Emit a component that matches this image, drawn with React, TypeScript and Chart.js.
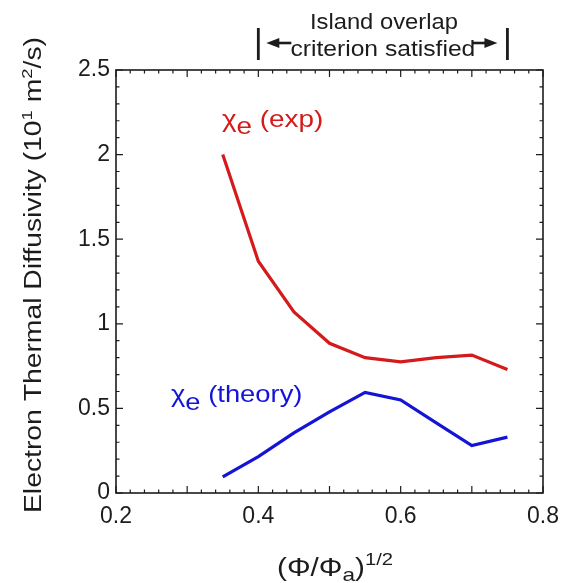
import React, { useEffect, useRef } from "react";
import { Chart, registerables } from "chart.js";

Chart.register(...registerables);

// ---- data ----
const xValues = [0.35, 0.4, 0.45, 0.5, 0.55, 0.6, 0.65, 0.7, 0.75];
const chiExp = [2.0, 1.37, 1.07, 0.885, 0.8, 0.775, 0.8, 0.815, 0.73];
const chiTheory = [0.095, 0.215, 0.355, 0.48, 0.595, 0.55, 0.415, 0.28, 0.33];
const xRange = [0.2, 0.8];
const yRange = [0, 2.5];
const xTickStep = 0.2;
const yTickStep = 0.5;
const overlapRange = [0.4, 0.75];
const overlapLabel = ["Island overlap", "criterion satisfied"];
const expLabel = ["χ", "e", " (exp)"];
const theoryLabel = ["χ", "e", " (theory)"];

const FONT = "'Liberation Sans', Arial, sans-serif";
const RED = "rgb(212,26,26)";
const BLUE = "rgb(20,20,215)";
const INK = "#1c1c1c";

type Seg = { t: string; size: number; dy: number };

function drawRich(
  ctx: CanvasRenderingContext2D,
  segs: Seg[],
  x: number,
  y: number,
  align: "left" | "center",
  stretch: number | null,
  targetWidth: number | null,
  color: string
) {
  ctx.save();
  ctx.fillStyle = color;
  ctx.textAlign = "left";
  ctx.textBaseline = "alphabetic";
  let w = 0;
  const widths: number[] = [];
  for (const s of segs) {
    ctx.font = `${s.size}px ${FONT}`;
    const m = ctx.measureText(s.t).width;
    widths.push(m);
    w += m;
  }
  const k = targetWidth ? targetWidth / w : stretch || 1;
  const x0 = align === "center" ? x - (w * k) / 2 : x;
  ctx.translate(x0, y);
  ctx.scale(k, 1);
  let cx = 0;
  segs.forEach((s, i) => {
    ctx.font = `${s.size}px ${FONT}`;
    ctx.fillText(s.t, cx, s.dy);
    cx += widths[i];
  });
  ctx.restore();
}

const decorPlugin = {
  id: "decor",
  afterDraw(chart: any) {
    const { ctx, chartArea } = chart;
    const xs = chart.scales.x;
    const ys = chart.scales.y;
    const { left, right, top, bottom } = chartArea;

    ctx.save();
    // frame
    ctx.strokeStyle = INK;
    ctx.lineWidth = 1.6;
    ctx.strokeRect(left, top, right - left, bottom - top);

    // ticks (inward, all four sides)
    ctx.lineWidth = 1.2;
    ctx.beginPath();
    const xMinor = 0.02;
    for (let i = 0; i <= Math.round((xRange[1] - xRange[0]) / xMinor); i++) {
      const v = xRange[0] + i * xMinor;
      const px = xs.getPixelForValue(v);
      const major = i % 5 === 0;
      const len = major ? 7 : 3.5;
      ctx.moveTo(px, bottom);
      ctx.lineTo(px, bottom - len);
      ctx.moveTo(px, top);
      ctx.lineTo(px, top + len);
    }
    const yMinor = 0.1;
    for (let i = 0; i <= Math.round((yRange[1] - yRange[0]) / yMinor); i++) {
      const v = yRange[0] + i * yMinor;
      const py = ys.getPixelForValue(v);
      const major = i % 5 === 0;
      const len = major ? 7 : 3.5;
      ctx.moveTo(left, py);
      ctx.lineTo(left + len, py);
      ctx.moveTo(right, py);
      ctx.lineTo(right - len, py);
    }
    ctx.stroke();

    // overlap annotation
    const bx1 = xs.getPixelForValue(overlapRange[0]);
    const bx2 = xs.getPixelForValue(overlapRange[1]);
    ctx.lineWidth = 2.8;
    ctx.beginPath();
    ctx.moveTo(bx1, 28);
    ctx.lineTo(bx1, 60);
    ctx.moveTo(bx2, 28);
    ctx.lineTo(bx2, 60);
    ctx.stroke();
    const ay = 43;
    const drawArrow = (tip: number, dir: number) => {
      ctx.lineWidth = 2.6;
      ctx.beginPath();
      ctx.moveTo(tip + dir * 8, ay);
      ctx.lineTo(tip + dir * 25, ay);
      ctx.stroke();
      ctx.beginPath();
      ctx.moveTo(tip, ay);
      ctx.lineTo(tip + dir * 13, ay - 5);
      ctx.lineTo(tip + dir * 13, ay + 5);
      ctx.closePath();
      ctx.fillStyle = INK;
      ctx.fill();
    };
    drawArrow(bx1 + 8, 1);
    drawArrow(bx2 - 10, -1);
    const cxm = (bx1 + bx2) / 2;
    drawRich(ctx, [{ t: overlapLabel[0], size: 22, dy: 0 }], cxm + 1, 29, "center", 1.08, null, INK);
    drawRich(ctx, [{ t: overlapLabel[1], size: 22, dy: 0 }], cxm, 56, "center", 1.12, null, INK);

    // series labels
    drawRich(
      ctx,
      [
        { t: expLabel[0], size: 24, dy: 0 },
        { t: expLabel[1], size: 24, dy: 7 },
        { t: expLabel[2], size: 24, dy: 0 },
      ],
      222,
      127,
      "left",
      1.16,
      null,
      RED
    );
    drawRich(
      ctx,
      [
        { t: theoryLabel[0], size: 24, dy: 0 },
        { t: theoryLabel[1], size: 24, dy: 8 },
        { t: theoryLabel[2], size: 24, dy: 0 },
      ],
      171,
      402,
      "left",
      1.14,
      null,
      BLUE
    );

    // x title
    drawRich(
      ctx,
      [
        { t: "(Φ/Φ", size: 25, dy: 0 },
        { t: "a", size: 19, dy: 5 },
        { t: ")", size: 25, dy: 0 },
        { t: "1/2", size: 17, dy: -11 },
      ],
      335,
      576,
      "center",
      null,
      116,
      INK
    );

    // y title
    ctx.save();
    ctx.translate(41, 275);
    ctx.rotate(-Math.PI / 2);
    drawRich(
      ctx,
      [
        { t: "Electron Thermal Diffusivity (10", size: 23, dy: 0 },
        { t: "1", size: 15, dy: -9 },
        { t: " m", size: 23, dy: 0 },
        { t: "2", size: 15, dy: -9 },
        { t: "/s)", size: 23, dy: 0 },
      ],
      0,
      0,
      "center",
      null,
      476,
      INK
    );
    ctx.restore();

    ctx.restore();
  },
};

export default function App() {
  const ref = useRef<HTMLCanvasElement | null>(null);

  useEffect(() => {
    document.body.style.margin = "0";
    const canvas = ref.current;
    if (!canvas) return;
    const chart = new Chart(canvas, {
      type: "line",
      data: {
        datasets: [
          {
            label: "χe (exp)",
            data: xValues.map((x, i) => ({ x, y: chiExp[i] })),
            borderColor: RED,
            borderWidth: 3.2,
            pointRadius: 0,
            tension: 0,
            fill: false,
          },
          {
            label: "χe (theory)",
            data: xValues.map((x, i) => ({ x, y: chiTheory[i] })),
            borderColor: BLUE,
            borderWidth: 3.2,
            pointRadius: 0,
            tension: 0,
            fill: false,
          },
        ],
      },
      options: {
        responsive: false,
        animation: false,
        devicePixelRatio: 1,
        layout: { padding: { top: 70, right: 18, left: 0, bottom: 0 } },
        plugins: {
          legend: { display: false },
          tooltip: { enabled: false },
          title: { display: false },
        },
        scales: {
          x: {
            type: "linear",
            min: xRange[0],
            max: xRange[1],
            grid: { display: false, drawTicks: false, tickLength: 0 },
            border: { display: false },
            ticks: {
              stepSize: xTickStep,
              color: INK,
              font: { family: FONT, size: 23 },
              padding: 10,
              callback: (v: any) => Number(v).toFixed(1),
            },
            afterFit: (s: any) => {
              s.height = 583 - 493;
              s.paddingLeft = 0;
              s.paddingRight = 0;
            },
          },
          y: {
            type: "linear",
            min: yRange[0],
            max: yRange[1],
            grid: { display: false, drawTicks: false, tickLength: 0 },
            border: { display: false },
            ticks: {
              stepSize: yTickStep,
              color: INK,
              font: { family: FONT, size: 23 },
              padding: 6,
              callback: (v: any) => String(Math.round(Number(v) * 10) / 10),
            },
            afterFit: (s: any) => {
              s.width = 116;
              s.paddingTop = 0;
              s.paddingBottom = 0;
            },
          },
        },
      },
      plugins: [decorPlugin],
    });
    return () => chart.destroy();
  }, []);

  return (
    <div style={{ position: "absolute", left: 0, top: 0, width: 561, height: 583, background: "#fff" }}>
      <canvas ref={ref} width={561} height={583} style={{ display: "block" }} />
    </div>
  );
}
